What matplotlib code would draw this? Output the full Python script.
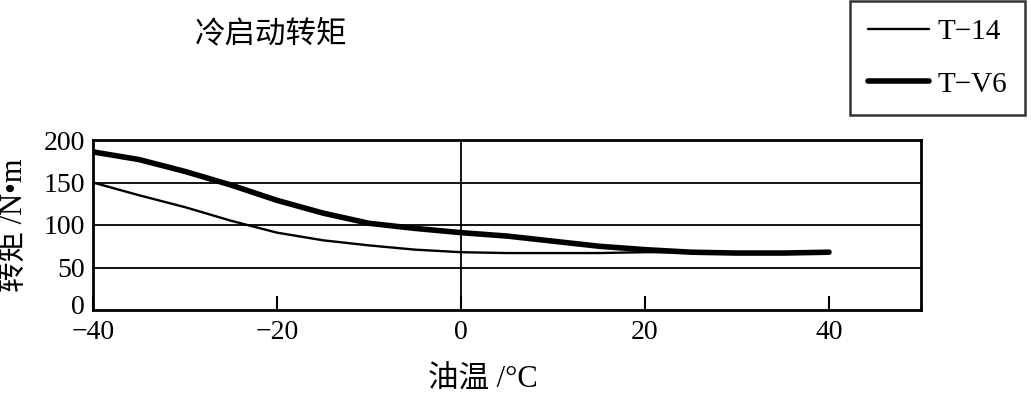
import matplotlib
matplotlib.use("Agg")
import matplotlib.pyplot as plt
import matplotlib.transforms as mtransforms

plt.rcParams["font.family"] = ["Liberation Serif", "Noto Sans CJK SC"]
plt.rcParams["axes.unicode_minus"] = True

temps = [-40, -35, -30, -25, -20, -15, -10, -5, 0, 5, 10, 15, 20, 25, 30, 35, 40]
t14 = [150, 135, 121, 105, 91, 82, 76, 71, 68, 67, 67, 67, 68, 68, 67, 67, 67]
tv6 = [186, 177, 163, 147, 129, 114, 102, 96, 91, 87, 81, 75, 71, 68, 67, 67, 68]

x_ticks = [-40, -20, 0, 20, 40]
y_ticks = [0, 50, 100, 150, 200]

fig = plt.figure(figsize=(10.31, 3.96), dpi=100)
ax = fig.add_axes([93 / 1031, 86 / 396, 828 / 1031, 170 / 396])

ax.plot(temps, t14, color="black", lw=1.7, label="T\u221214", solid_capstyle="round")
ax.plot(temps, tv6, color="black", lw=4.0, label="T\u2212V6", solid_capstyle="round")

ax.set_xlim(-40, 50)
ax.set_ylim(0, 200)
ax.set_xticks(x_ticks)
ax.set_yticks(y_ticks)
ax.set_xticklabels(["\u221240", "\u221220", "0", "20", "40"])
ax.tick_params(axis="x", direction="in", length=10, width=1.5, labelsize=20, pad=7)
ax.tick_params(axis="y", length=0, labelsize=20, pad=6)

# nudge the "0" label up a little, as in the original
zero_lbl = ax.get_yticklabels()[0]
zero_lbl.set_transform(zero_lbl.get_transform() +
                       mtransforms.ScaledTranslation(0, 6 / 100, fig.dpi_scale_trans))

for v in [50, 100, 150]:
    ax.axhline(v, color="black", lw=1.3)
ax.axvline(0, color="black", lw=1.3)

for s in ax.spines.values():
    s.set_linewidth(2)

ax.set_xlabel("油温 /°C", fontsize=22)
ax.xaxis.set_label_coords((483 - 93) / 828, -0.33)
ax.set_ylabel("转矩 /N\u2022m", fontsize=22)
ax.yaxis.set_label_coords((29 - 93) / 828, 0.5)

fig.text(195 / 1031, 1 - 35 / 396, "冷启动转矩", fontsize=22, va="center", ha="left")

leg = fig.legend(loc="upper right", bbox_to_anchor=(1025 / 1031, 1 - 1 / 396),
                 fontsize=21, frameon=True, fancybox=False, edgecolor="black",
                 handlelength=2.1, handletextpad=0.3, labelspacing=0.9,
                 borderpad=0.6, borderaxespad=0)
leg.get_frame().set_linewidth(1.8)

fig.savefig("out.png", dpi=100)
